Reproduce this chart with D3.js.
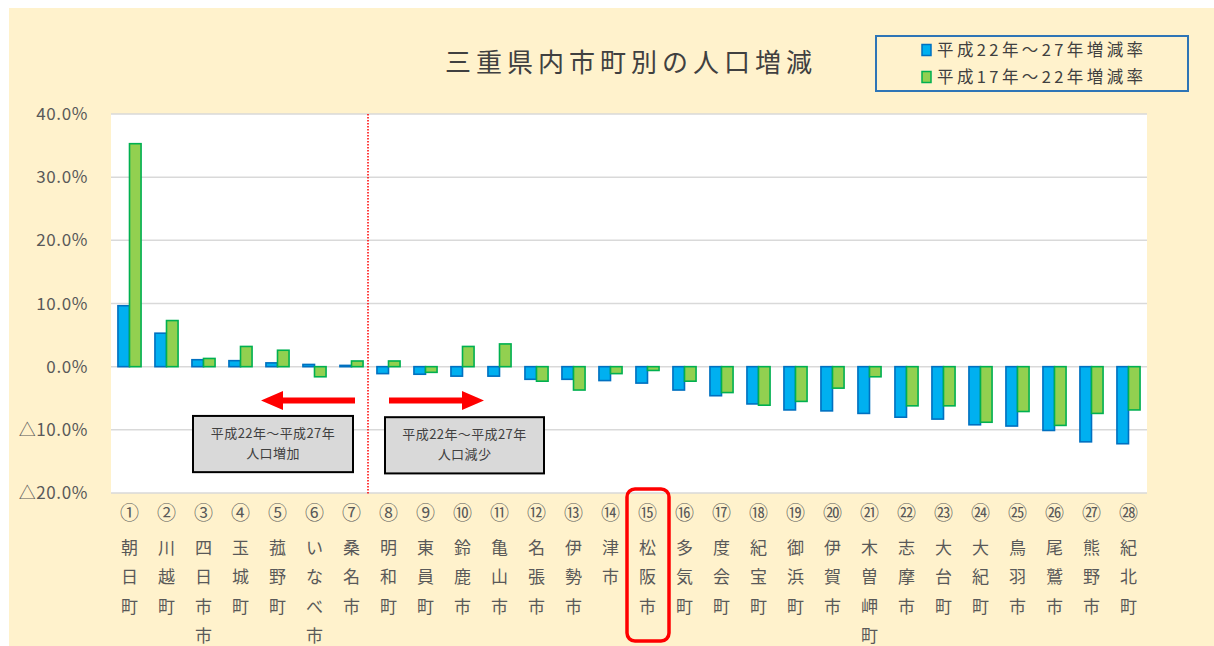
<!DOCTYPE html>
<html><head><meta charset="utf-8">
<script src="https://cdn.jsdelivr.net/npm/d3@7"></script>
<style>body{margin:0;background:#fff}svg{display:block}</style>
</head><body>
<svg id="c" width="1214" height="646"></svg>
<script>
const nums = ["①","②","③","④","⑤","⑥","⑦","⑧","⑨","⑩","⑪","⑫","⑬","⑭","⑮","⑯","⑰","⑱","⑲","⑳","㉑","㉒","㉓","㉔","㉕","㉖","㉗","㉘"];
const names = ["朝日町","川越町","四日市市","玉城町","菰野町","いなべ市","桑名市","明和町","東員町","鈴鹿市","亀山市","名張市","伊勢市","津市","松阪市","多気町","度会町","紀宝町","御浜町","伊賀市","木曽岬町","志摩市","大台町","大紀町","鳥羽市","尾鷲市","熊野市","紀北町"];
const seriesNames = ["平成22年～27年増減率","平成17年～22年増減率"];
const h22_27 = [9.65,5.3,1.1,0.95,0.6,0.35,0.2,-1.1,-1.2,-1.5,-1.5,-2.0,-2.0,-2.2,-2.6,-3.7,-4.6,-5.9,-6.85,-7.0,-7.4,-8.0,-8.3,-9.2,-9.4,-10.1,-11.9,-12.2];
const h17_22 = [35.3,7.3,1.3,3.2,2.6,-1.6,0.9,0.9,-0.9,3.2,3.6,-2.3,-3.7,-1.1,-0.6,-2.3,-4.1,-6.1,-5.5,-3.4,-1.6,-6.2,-6.2,-8.8,-7.1,-9.3,-7.4,-6.85];
const yTicks = [40,30,20,10,0,-10,-20];
const title = "三重県内市町別の人口増減";
const boxTextIncrease = ["平成22年～平成27年","人口増加"];
const boxTextDecrease = ["平成22年～平成27年","人口減少"];

const FONT = "'Noto Sans CJK JP', 'Noto Sans', sans-serif";
const fills = ["#00B0F0","#92D050"], strokes = ["#0070C0","#00B050"];
const svg = d3.select("#c");

svg.append("rect").attr("x",9).attr("y",8).attr("width",1214-9).attr("height",646-8).attr("fill","#FFF2CC");

const L=111,R=1147,T=114,B=493;
svg.append("rect").attr("x",L).attr("y",T).attr("width",R-L).attr("height",B-T).attr("fill","#fff");

const x0 = d3.scaleBand().domain(d3.range(names.length)).range([L,R]).padding(0);
const xs = d3.scaleBand().domain([0,1]).range([0,x0.bandwidth()]).paddingInner(0).paddingOuter(0.6);
const y = d3.scaleLinear().domain([-20,40]).range([B,T]);

// gridlines
svg.append("g").selectAll("line").data(yTicks).join("line")
  .attr("x1",L).attr("x2",R).attr("y1",d=>y(d)).attr("y2",d=>y(d))
  .attr("stroke","#D9D9D9").attr("stroke-width",1.5);

// y labels
const fmt = d => (d<0?"△":"") + Math.abs(d).toFixed(1) + "%";
svg.append("g").selectAll("text").data(yTicks).join("text")
  .attr("x",88).attr("y",d=>y(d)+6).attr("text-anchor","end")
  .attr("font-family",FONT).attr("font-size",17).attr("letter-spacing",0.6).attr("fill","#595959")
  .text(fmt);

// bars
const series = [h22_27,h17_22];
series.forEach((vals,si)=>{
  svg.append("g").selectAll("rect").data(vals).join("rect")
    .attr("x",(d,i)=>x0(i)+xs(si))
    .attr("width",xs.bandwidth())
    .attr("y",d=>y(Math.max(0,d)))
    .attr("height",d=>Math.abs(y(d)-y(0)))
    .attr("fill",fills[si]).attr("stroke",strokes[si]).attr("stroke-width",1.6);
});

// divider
const xd = x0(7)-2;
svg.append("line").attr("x1",xd).attr("x2",xd).attr("y1",T).attr("y2",B+2)
  .attr("stroke","#FF0000").attr("stroke-width",1.5).attr("stroke-dasharray","1.5,1.5");

// arrows
const ay = y(-5.35);
function arrow(xStart,xTip){
  const dir = Math.sign(xTip-xStart), headLen=22, headH=9.5, sh=3;
  const xb = xTip - dir*headLen;
  svg.append("path").attr("fill","#FF0000").attr("d",
    `M${xStart},${ay-sh}L${xb},${ay-sh}L${xb},${ay-headH}L${xTip},${ay}L${xb},${ay+headH}L${xb},${ay+sh}L${xStart},${ay+sh}Z`);
}
arrow(355,261);
arrow(389,484);

// annotation boxes
function box(x1,x2,y1,y2,lines){
  svg.append("rect").attr("x",x1).attr("y",y1).attr("width",x2-x1).attr("height",y2-y1)
    .attr("fill","#D9D9D9").attr("stroke","#000").attr("stroke-width",2);
  lines.forEach((t,i)=>svg.append("text").attr("x",(x1+x2)/2).attr("y",y1+22+i*20)
    .attr("text-anchor","middle").attr("font-family",FONT).attr("font-size",13)
    .attr("letter-spacing",0.4).attr("fill","#404040").text(t));
}
box(193,353,y(-7.8),y(-16.7),boxTextIncrease);
box(385,544,y(-8.0),y(-16.9),boxTextDecrease);

// category labels
const gl = svg.append("g").attr("font-family",FONT).attr("fill","#595959").attr("text-anchor","middle");
names.forEach((n,i)=>{
  const cx = x0(i)+x0.bandwidth()/2;
  gl.append("text").attr("x",cx).attr("y",520).attr("font-size",19).text(nums[i]);
  Array.from(n).forEach((ch,j)=>{
    gl.append("text").attr("x",cx).attr("y",554+j*29.3).attr("font-size",17).text(ch);
  });
});

// highlight 松阪市
const hx = x0(14);
svg.append("rect").attr("x",hx-2).attr("y",489).attr("width",x0.bandwidth()+5).attr("height",152)
  .attr("rx",8).attr("fill","none").attr("stroke","#FF0000").attr("stroke-width",3.5);

// title
svg.append("text").attr("x",631).attr("y",72).attr("text-anchor","middle")
  .attr("font-family",FONT).attr("font-size",26).attr("letter-spacing",5).attr("fill","#404040").text(title);

// legend
svg.append("rect").attr("x",876).attr("y",36).attr("width",312).attr("height",55)
  .attr("fill","#FFF2CC").attr("stroke","#2E75B6").attr("stroke-width",2);
seriesNames.forEach((s,i)=>{
  const ly = 50+i*27;
  svg.append("rect").attr("x",922).attr("y",ly-5.5).attr("width",9).attr("height",11)
    .attr("fill",fills[i]).attr("stroke",strokes[i]).attr("stroke-width",1.5);
  svg.append("text").attr("x",937).attr("y",ly+6).attr("font-family",FONT).attr("font-size",16.5)
    .attr("letter-spacing",3.4).attr("fill","#404040").text(s);
});
</script>
</body></html>
